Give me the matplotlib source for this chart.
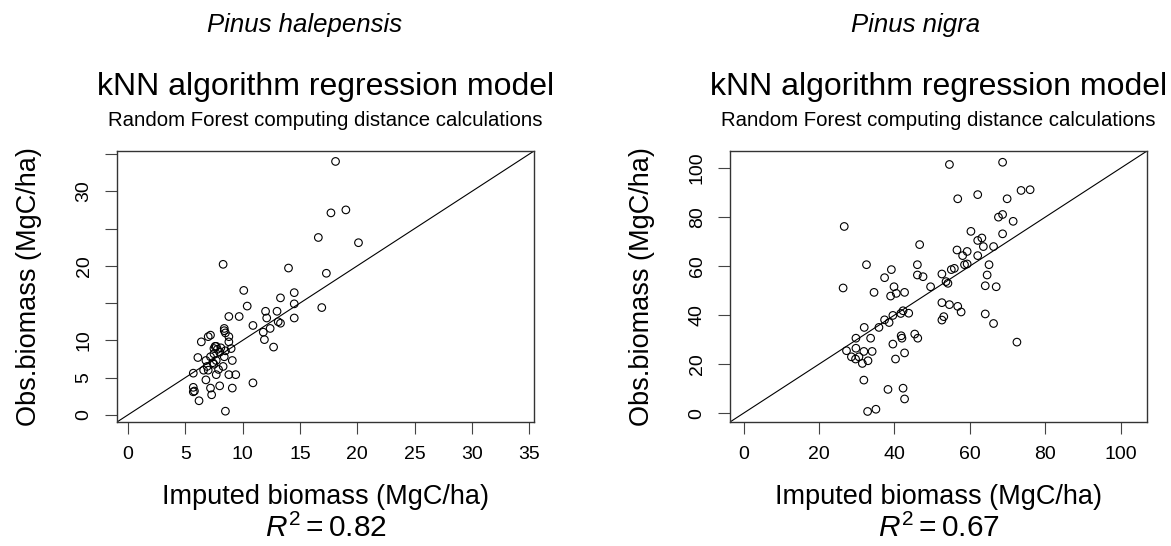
import matplotlib
matplotlib.use("Agg")
import matplotlib.pyplot as plt

plt.rcParams['font.family'] = ['Liberation Sans', 'DejaVu Sans']
plt.rcParams['mathtext.fontset'] = 'custom'
plt.rcParams['mathtext.rm'] = 'Liberation Sans'
plt.rcParams['mathtext.it'] = 'Liberation Sans:italic'

species = ["Pinus halepensis", "Pinus nigra"]
r2 = ["0.82", "0.67"]

# Pinus halepensis: imputed (x) vs observed (y)
hal_imp = [18.1, 17.7, 19.0, 20.1, 16.6, 17.3, 16.9, 14.0, 8.3, 10.1, 10.4, 8.8, 9.7, 12.0,
           13.0, 13.3, 14.5, 14.5, 14.5, 12.1, 10.9, 12.4, 13.1, 13.3, 11.8, 11.9, 12.7, 10.9,
           8.5, 6.2, 5.7, 5.8, 5.7, 5.7, 7.3, 7.2, 8.0, 9.1, 6.8, 6.6, 7.0, 7.7, 8.8, 9.4,
           8.3, 7.5, 9.1, 6.1, 6.8, 7.2, 7.7, 8.4, 7.5, 8.0, 8.5, 7.5, 7.6, 7.7, 6.4, 7.0,
           7.2, 8.4, 8.5, 8.8, 8.8, 9.0, 8.4, 7.8, 7.4, 6.9, 7.9, 8.1]
hal_obs = [34.0, 27.1, 27.5, 23.1, 23.8, 19.0, 14.4, 19.7, 20.2, 16.7, 14.6, 13.2, 13.2, 13.9,
           13.9, 15.7, 16.4, 14.9, 13.0, 13.0, 12.0, 11.6, 12.5, 12.3, 11.1, 10.1, 9.1, 4.3,
           0.5, 1.9, 3.7, 3.2, 3.1, 5.6, 2.7, 3.6, 3.9, 3.6, 4.7, 6.0, 6.0, 5.4, 5.4, 5.4,
           6.5, 6.8, 7.3, 7.7, 7.3, 7.8, 7.3, 7.8, 8.2, 8.4, 8.6, 8.9, 9.2, 9.2, 9.8, 10.5,
           10.7, 11.3, 11.0, 10.5, 9.8, 8.9, 11.6, 8.8, 7.0, 6.5, 6.1, 9.0]

# Pinus nigra: imputed (x) vs observed (y)
nig_imp = [54.6, 26.7, 26.4, 32.6, 39.2, 37.4, 39.9, 39.0, 40.5, 42.7, 34.6, 46.7, 46.1, 46.1,
           47.6, 49.6, 52.6, 53.7, 54.2, 55.1, 52.6, 54.6, 52.6, 53.1, 42.3, 43.8, 41.7, 39.6,
           37.4, 38.6, 35.9, 32.0, 29.8, 33.7, 41.8, 42.0, 45.4, 46.2, 39.6, 27.3, 29.8, 31.9,
           34.1, 28.6, 29.7, 30.6, 33.0, 31.5, 40.3, 42.7, 31.9, 38.3, 42.3, 42.7, 32.9, 35.1,
           68.7, 56.8, 62.1, 69.9, 73.6, 76.0, 67.6, 68.7, 71.5, 60.3, 62.1, 63.2, 68.7, 56.6,
           59.3, 58.1, 63.6, 66.3, 62.1, 58.6, 59.3, 55.9, 65.1, 64.6, 64.1, 67.0, 56.8, 57.7,
           64.1, 66.3, 72.5]
nig_obs = [101.5, 76.2, 51.1, 60.6, 58.6, 55.3, 51.6, 47.8, 48.9, 49.3, 49.3, 68.8, 60.6, 56.4,
           55.7, 51.6, 56.8, 53.7, 53.0, 58.6, 45.1, 44.3, 38.0, 39.4, 41.8, 40.8, 40.7, 39.9,
           38.1, 37.0, 35.0, 35.0, 30.6, 30.6, 31.6, 30.6, 32.3, 30.6, 28.2, 25.5, 26.5, 25.2,
           25.2, 23.0, 22.1, 23.0, 21.4, 20.3, 22.1, 24.6, 13.5, 9.7, 10.2, 5.8, 0.7, 1.6,
           102.4, 87.5, 89.2, 87.5, 90.9, 91.2, 80.0, 81.1, 78.3, 74.2, 70.5, 71.5, 73.2, 66.6,
           66.0, 64.3, 68.0, 68.0, 64.3, 60.6, 60.9, 59.1, 60.6, 56.4, 52.0, 51.6, 43.6, 41.3,
           40.5, 36.6, 29.0]

W, H = 1171, 546
fig = plt.figure(figsize=(W / 100, H / 100), dpi=100)


def fx(px):
    return px / W


def fy(py):
    return 1 - py / H


panels = [
    dict(x0=117, imp=hal_imp, obs=hal_obs, lim=(-0.95, 35.4), ticks=[0, 5, 10, 15, 20, 25, 30, 35],
         ylabels=["0", "5", "10", "", "20", "", "30", ""], name_x=305),
    dict(x0=730, imp=nig_imp, obs=nig_obs, lim=(-3.6, 107.0), ticks=[0, 20, 40, 60, 80, 100],
         ylabels=["0", "20", "40", "60", "80", "100"], name_x=916),
]

box_w, top, bottom = 417, 151, 422
for i, p in enumerate(panels):
    ax = fig.add_axes([fx(p["x0"]), fy(bottom), box_w / W, (bottom - top) / H])
    ax.scatter(p["imp"], p["obs"], s=30, facecolors="none", edgecolors="black", linewidths=0.8)
    ax.axline((0, 0), slope=1, color="black", lw=0.8)
    ax.set_xlim(p["lim"])
    ax.set_ylim(p["lim"])
    ax.set_xticks(p["ticks"])
    ax.set_yticks(p["ticks"])
    ax.set_xticklabels([str(t) for t in p["ticks"]])
    ax.set_yticklabels(p["ylabels"], rotation=90, va="center")
    ax.tick_params(length=8.5, width=0.8, color="#444444", labelsize=14, pad=9)
    for sp in ax.spines.values():
        sp.set_color("#333333")
        sp.set_linewidth(1.0)

    cx = p["x0"] + box_w / 2
    fig.text(fx(p["name_x"]), fy(25), species[i], ha="center", va="center",
             fontsize=18.5, style="italic")
    fig.text(fx(cx), fy(87), "kNN algorithm regression model", ha="center", va="center",
             fontsize=23)
    fig.text(fx(cx), fy(120), "Random Forest computing distance calculations", ha="center",
             va="center", fontsize=14.7)
    fig.text(fx(p["x0"] - 88), fy((top + bottom) / 2), "Obs.biomass (MgC/ha)", rotation=90,
             ha="center", va="center", fontsize=19.5)
    fig.text(fx(cx), fy(497), "Imputed biomass (MgC/ha)", ha="center", va="center",
             fontsize=19.5)
    fig.text(fx(cx), fy(528), r"$R^2 = %s$" % r2[i], ha="center", va="center", fontsize=21.5)

fig.savefig("out.png", dpi=100)
